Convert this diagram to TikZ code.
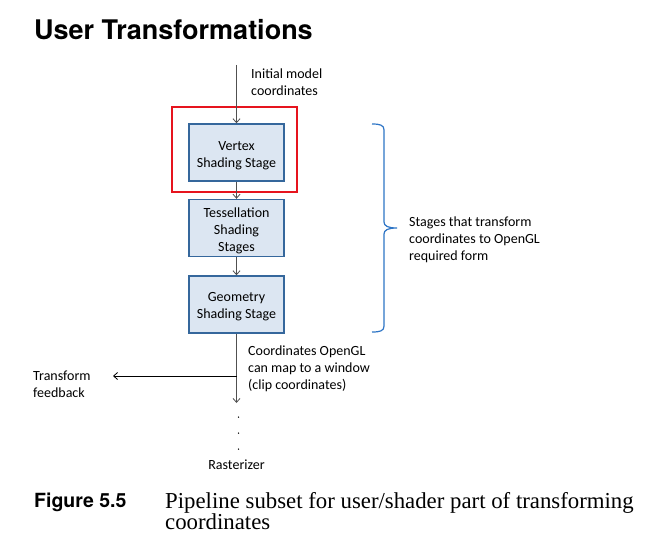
\documentclass[tikz,border=0pt]{standalone}
\usepackage{fontspec}
\newfontfamily\diagfont{Carlito}
\newfontfamily\headsans{TeX Gyre Heros}
\newfontfamily\capserif{Liberation Serif}
\usetikzlibrary{arrows.meta}
\definecolor{boxfill}{HTML}{DCE6F2}
\definecolor{boxline}{HTML}{35679C}
\definecolor{bracecol}{HTML}{2E75C6}
\definecolor{flowgray}{HTML}{505050}
\definecolor{framered}{RGB}{230,20,30}
\begin{document}
\begin{tikzpicture}[x=1pt,y=-1pt,
  stagebox/.style={draw=boxline,line width=1.4pt,fill=boxfill,minimum width=95pt,minimum height=57pt,inner sep=0pt},
  boxtext/.style={inner sep=0pt,align=center,font=\diagfont\fontsize{14}{17}\selectfont},
  lbl/.style={inner sep=0pt,align=left,anchor=north west,font=\diagfont\fontsize{14}{17}\selectfont},
  flow/.style={draw=flowgray,line width=0.8pt,-{Straight Barb[length=4pt,width=7pt]}},
]
\path[use as bounding box,fill=white] (0,0) rectangle (655,540);
\node[inner sep=0pt,anchor=base west,font=\headsans\bfseries\fontsize{27}{31}\selectfont] (title) at (34,40) {User Transformations};

\node[stagebox] (vertex) at (236.5,152.5) {};
\node[stagebox] (tess) at (236.5,228) {};
\node[stagebox] (geom) at (236.5,304.5) {};
\node[boxtext] (vertextext) at ([yshift=-3pt]vertex.center) {Vertex\\Shading Stage};
\node[boxtext] (tesstext) at ([yshift=-2.5pt]tess.center) {Tessellation\\Shading\\Stages};
\node[boxtext] (geomtext) at ([yshift=-2pt]geom.center) {Geometry\\Shading Stage};
\node[draw,color=framered,line width=1.1pt,minimum width=125pt,minimum height=85pt,inner sep=0pt] (highlight) at (234.5,149.5) {};

\coordinate (top) at (236.5,65);
\coordinate (branch) at (236.5,376);
\coordinate (bottom) at (236.5,403);
\coordinate (feedend) at (113,376);

\draw[flow] (top) -- (vertex.north);
\draw[flow] (vertex.south) -- (tess.north);
\draw[flow] (tess.south) -- (geom.north);
\draw[flow] (geom.south) -- (bottom);
\draw[draw=black,line width=0.8pt,-{Straight Barb[length=4pt,width=7pt]}] (branch) -- (feedend);

\node[lbl] (initlbl) at (251,69) {Initial model\\coordinates};
\node[lbl] (cliplbl) at (248,346) {Coordinates OpenGL\\can map to a window\\(clip coordinates)};
\node[lbl] (fblbl) at (33,370.5) {Transform\\feedback};
\node[lbl] (stagelbl) at (409,217) {Stages that transform\\coordinates to OpenGL\\required form};

\foreach \yy [count=\i] in {417,433,449} {
  \node[circle,fill=black,inner sep=0pt,minimum size=1.5pt] (dot\i) at (238.5,\yy) {};
}
\node[inner sep=0pt,anchor=base,font=\diagfont\fontsize{14}{17}\selectfont] (raster) at (236.5,469) {Rasterizer};

\coordinate (bracetop) at (372,124);
\coordinate (bracebot) at (372,332);
\coordinate (bracetip) at (397,228);
\draw[bracecol,line width=1.2pt]
  (bracetop) .. controls (380,124) and (384,125) .. (384,130)
  -- (384,222) .. controls (384,226) and (388,228) .. (bracetip)
  .. controls (388,228) and (384,230) .. (384,234)
  -- (384,326) .. controls (384,331) and (380,332) .. (bracebot);

\node[inner sep=0pt,anchor=base west,font=\headsans\bfseries\fontsize{19.5}{22}\selectfont] (fignum) at (34,507) {Figure 5.5};
\node[inner sep=0pt,anchor=base west,align=left,font=\capserif\fontsize{22.8}{21}\selectfont] (caption) at (165,529) {Pipeline subset for user/shader part of transforming\\coordinates};
\end{tikzpicture}
\end{document}
